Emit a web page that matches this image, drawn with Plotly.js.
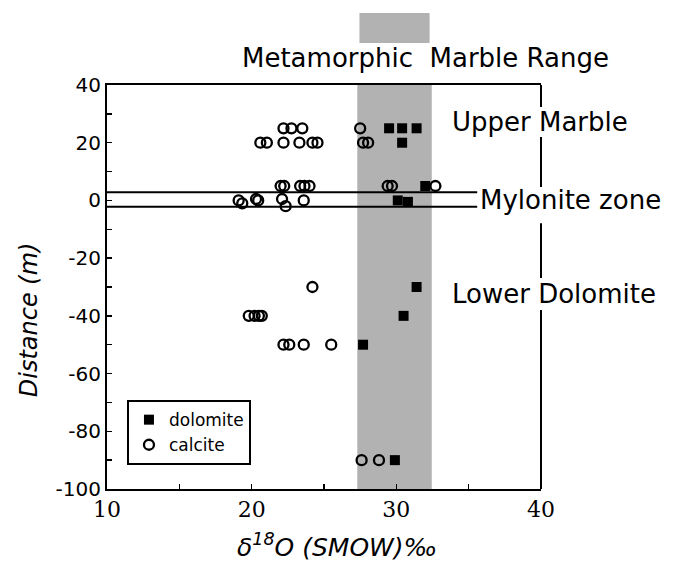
<!DOCTYPE html>
<html>
<head>
<meta charset="utf-8">
<script src="https://cdn.plot.ly/plotly-3.0.1.min.js"></script>
<style>html,body{margin:0;padding:0;background:#fff;}#chart{width:673px;height:566px;}</style>
</head>
<body>
<div id="chart"></div>
<script>
// Calcite (open circles): delta18O (SMOW) and distance (m)
var calciteX = [22.2, 22.75, 23.5, 27.5,
                20.6, 21.05, 22.2, 23.3, 24.2, 24.55, 27.7, 28.05,
                22.0, 22.25, 23.35, 23.65, 24.0, 29.4, 29.7, 32.7,
                19.1, 19.35, 20.3, 20.45, 22.1, 22.35, 23.6,
                24.2,
                19.8, 20.2, 20.5, 20.7,
                22.2, 22.6, 23.6, 25.5,
                27.6, 28.8];
var calciteY = [25, 25, 25, 25,
                20, 20, 20, 20, 20, 20, 20, 20,
                5, 5, 5, 5, 5, 5, 5, 5,
                0, -1, 0.5, 0, 0.5, -2, 0,
                -30,
                -40, -40, -40, -40,
                -50, -50, -50, -50,
                -90, -90];
// Dolomite (filled squares)
var dolomiteX = [29.5, 30.4, 31.4, 30.4, 32.0, 30.1, 30.8, 31.4, 30.5, 27.7, 29.9];
var dolomiteY = [25, 25, 25, 20, 5, 0, -0.5, -30, -40, -50, -90];

// Metamorphic marble range band and mylonite zone limits
var marbleRange = [27.3, 32.45];
var myloniteZone = [2.8, -2.2];

var xTickVals = [10, 20, 30, 40];
var xTickText = ['10', '20', '30', '40'];
var yTickVals = [-100, -80, -60, -40, -20, 0, 20, 40];
var yTickText = ['-100', '-80', '-60', '-40', '-20', '0', '20', '40'];

var traces = [
  {x: dolomiteX, y: dolomiteY, name: 'dolomite', type: 'scatter', mode: 'markers',
   marker: {symbol: 'square', size: 10, color: '#000', line: {width: 0}}},
  {x: calciteX, y: calciteY, name: 'calcite', type: 'scatter', mode: 'markers',
   marker: {symbol: 'circle-open', size: 10, color: '#000', line: {width: 2.3, color: '#000'}}}
];

var sans = 'DejaVu Sans, Liberation Sans, Arial, sans-serif';
var shapes = [
  {type: 'rect', xref: 'x', yref: 'paper', x0: marbleRange[0], x1: marbleRange[1], y0: 0, y1: 1,
   fillcolor: '#b2b2b2', line: {width: 0}, layer: 'below'},
  {type: 'rect', xref: 'x', yref: 'paper', x0: marbleRange[0] + 0.15, x1: marbleRange[1] - 0.15, y0: 1.104, y1: 1.178,
   fillcolor: '#b2b2b2', line: {width: 0}, layer: 'below'},
  {type: 'line', xref: 'paper', yref: 'y', x0: 0, x1: 0.853, y0: myloniteZone[0], y1: myloniteZone[0], line: {color: '#000', width: 2}},
  {type: 'line', xref: 'paper', yref: 'y', x0: 0, x1: 0.853, y0: myloniteZone[1], y1: myloniteZone[1], line: {color: '#000', width: 2}}
];
// broken right-hand frame line
var rightSegs = [[1, 0.9455], [0.871, 0.7475], [0.658, 0.522], [0.443, 0]];
rightSegs.forEach(function (s) {
  shapes.push({type: 'line', xref: 'paper', yref: 'paper', x0: 1, x1: 1, y0: s[0], y1: s[1], line: {color: '#000', width: 2}});
});

var layout = {
  width: 673, height: 566,
  margin: {l: 107, r: 132, t: 85, b: 77},
  paper_bgcolor: '#fff', plot_bgcolor: '#fff',
  showlegend: true,
  legend: {x: 0.046, y: 0.22, xanchor: 'left', yanchor: 'top', bgcolor: '#fff',
           bordercolor: '#000', borderwidth: 2, font: {family: sans, size: 17, color: '#000'},
           traceorder: 'normal', tracegroupgap: 2},
  xaxis: {range: [10, 40], tickvals: xTickVals, ticktext: xTickText, ticks: 'inside', ticklen: 5,
          tickwidth: 1.5, tickcolor: '#000', showline: true, mirror: true, linecolor: '#000', linewidth: 2,
          showgrid: false, zeroline: false,
          minor: {dtick: 5, ticks: 'inside', ticklen: 5, tickwidth: 1.5, tickcolor: '#000', showgrid: false},
          tickfont: {family: 'DejaVu Serif, Liberation Serif, serif', size: 22, color: '#000'}},
  yaxis: {range: [-100, 40], tickvals: yTickVals, ticktext: yTickText, ticks: 'inside', ticklen: 5,
          tickwidth: 1.5, tickcolor: '#000', showline: true, mirror: false, linecolor: '#000', linewidth: 2,
          showgrid: false, zeroline: false,
          minor: {dtick: 10, ticks: 'inside', ticklen: 5, tickwidth: 1.5, tickcolor: '#000', showgrid: false},
          tickfont: {family: sans, size: 20, color: '#000'}},
  shapes: shapes,
  annotations: [
    {text: 'Metamorphic  Marble Range', xref: 'paper', yref: 'paper', x: 0.735, y: 1.066,
     xanchor: 'center', yanchor: 'middle', showarrow: false, font: {family: sans, size: 26, color: '#000'}},
    {text: 'Upper Marble', xref: 'paper', yref: 'paper', x: 0.998, y: 0.908,
     xanchor: 'center', yanchor: 'middle', showarrow: false, font: {family: sans, size: 26, color: '#000'}},
    {text: 'Mylonite zone', xref: 'paper', yref: 'y', x: 0.855, y: 0,
     xanchor: 'left', yanchor: 'middle', showarrow: false, font: {family: sans, size: 26, color: '#000'}},
    {text: 'Lower Dolomite', xref: 'paper', yref: 'paper', x: 1.03, y: 0.482,
     xanchor: 'center', yanchor: 'middle', showarrow: false, font: {family: sans, size: 26, color: '#000'}},
    {text: '<i>Distance (m)</i>', xref: 'paper', yref: 'paper', x: -0.18, y: 0.42, textangle: -90,
     xanchor: 'center', yanchor: 'middle', showarrow: false, font: {family: sans, size: 24, color: '#000'}},
    {text: '<i>δ<sup>18</sup>O (SMOW)‰</i>', xref: 'paper', yref: 'paper', x: 0.531, y: -0.14,
     xanchor: 'center', yanchor: 'middle', showarrow: false, font: {family: sans, size: 25, color: '#000'}}
  ]
};

Plotly.newPlot('chart', traces, layout, {displayModeBar: false, staticPlot: true});
</script>
</body>
</html>
